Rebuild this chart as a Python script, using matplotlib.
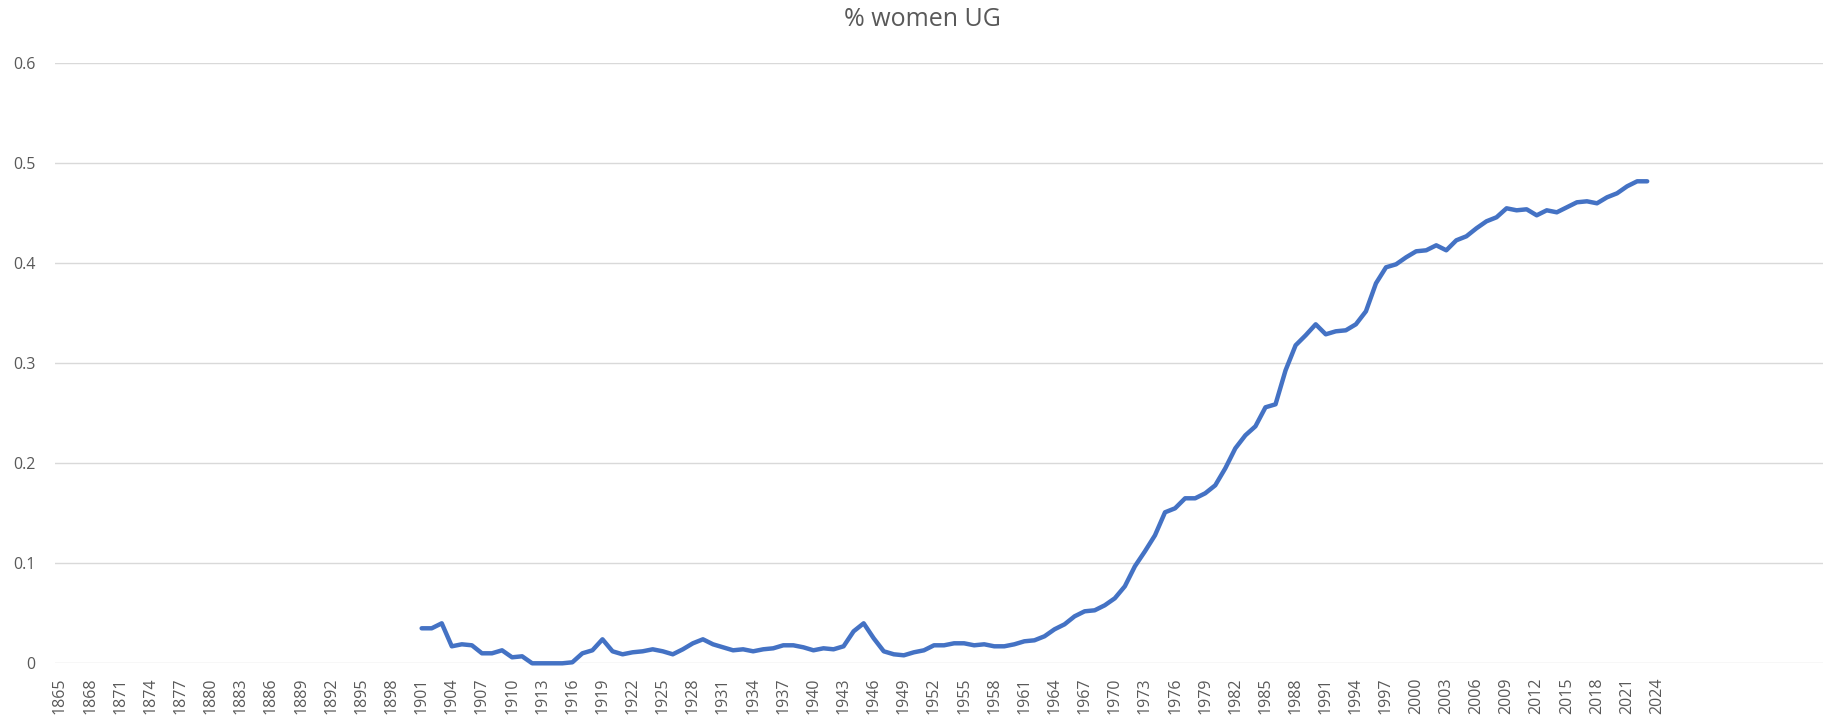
import matplotlib
matplotlib.use("Agg")
import matplotlib.pyplot as plt
import numpy as np

# share of women among undergraduates, 1901-2023
years = list(range(1901, 2024))
pct_women = [
    0.035, 0.035, 0.040, 0.017, 0.019, 0.018, 0.010, 0.010, 0.013, 0.006,  # 1901-1910
    0.007, 0.000, 0.000, 0.000, 0.000, 0.001, 0.010, 0.013, 0.024, 0.012,  # 1911-1920
    0.009, 0.011, 0.012, 0.014, 0.012, 0.009, 0.014, 0.020, 0.024, 0.019,  # 1921-1930
    0.016, 0.013, 0.014, 0.012, 0.014, 0.015, 0.018, 0.018, 0.016, 0.013,  # 1931-1940
    0.015, 0.014, 0.017, 0.032, 0.040, 0.025, 0.012, 0.009, 0.008, 0.011,  # 1941-1950
    0.013, 0.018, 0.018, 0.020, 0.020, 0.018, 0.019, 0.017, 0.017, 0.019,  # 1951-1960
    0.022, 0.023, 0.027, 0.034, 0.039, 0.047, 0.052, 0.053, 0.058, 0.065,  # 1961-1970
    0.077, 0.097, 0.112, 0.128, 0.151, 0.155, 0.165, 0.165, 0.170, 0.178,  # 1971-1980
    0.195, 0.215, 0.228, 0.237, 0.256, 0.259, 0.293, 0.318, 0.328, 0.339,  # 1981-1990
    0.329, 0.332, 0.333, 0.339, 0.352, 0.380, 0.396, 0.399, 0.406, 0.412,  # 1991-2000
    0.413, 0.418, 0.413, 0.423, 0.427, 0.435, 0.442, 0.446, 0.455, 0.453,  # 2001-2010
    0.454, 0.448, 0.453, 0.451, 0.456, 0.461, 0.462, 0.460, 0.466, 0.470,  # 2011-2020
    0.477, 0.482, 0.482,                                                   # 2021-2023
]
tick_years = list(range(1865, 2025, 3))
y_ticks = [0, 0.1, 0.2, 0.3, 0.4, 0.5, 0.6]

grey = "#595959"
plt.rcParams["font.family"] = ["Open Sans", "DejaVu Sans"]

fig = plt.figure(figsize=(18.23, 7.22), dpi=100)
ax = fig.add_axes([55 / 1823, 1 - 663.3 / 722, 1 - 55 / 1823, 600 / 722])

ax.plot(years, pct_women, color="#4472C4", lw=3.2, solid_joinstyle="round",
        solid_capstyle="round", clip_on=False, zorder=3)

ax.set_xlim(1864.5, 2040.5)
ax.set_ylim(0, 0.6)
ax.set_yticks(y_ticks)
ax.set_yticklabels(["0" if v == 0 else f"{v:g}" for v in y_ticks])
ax.set_xticks(tick_years)
ax.set_xticklabels([str(y) for y in tick_years], rotation=90)

ax.grid(axis="y", color="#D9D9D9", lw=1)
ax.set_axisbelow(True)
for s in ax.spines.values():
    s.set_visible(False)
ax.tick_params(axis="both", length=0, colors=grey, labelsize=11.5)
ax.tick_params(axis="y", pad=14)
ax.tick_params(axis="x", pad=10)

fig.text(0.506, 1 - 19 / 722, "% women UG", ha="center", va="center",
         fontsize=18, color=grey)

fig.savefig("out.png", dpi=100)
